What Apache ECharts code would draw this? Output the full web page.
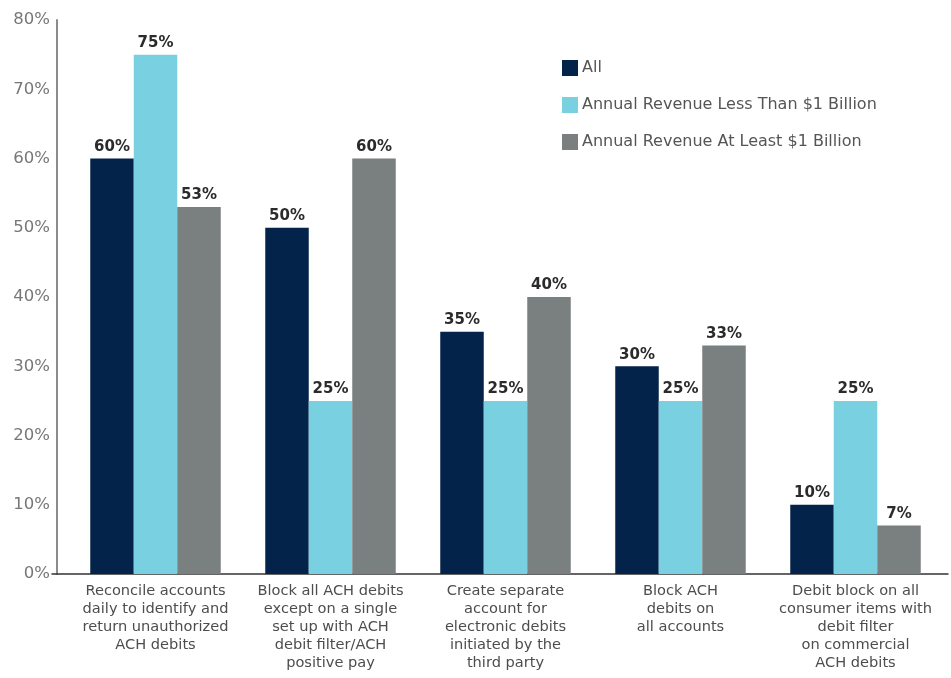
<!DOCTYPE html>
<html>
<head>
<meta charset="utf-8">
<script src="https://cdn.jsdelivr.net/npm/echarts@6/dist/echarts.min.js"></script>
<style>
  html, body { margin: 0; padding: 0; background: #ffffff; }
  #chart { width: 951px; height: 678px; }
</style>
</head>
<body>
<div id="chart"></div>
<script>
// ACH debit fraud-prevention practices, by organisation size
const categories = [
  'Reconcile accounts\ndaily to identify and\nreturn unauthorized\nACH debits',
  'Block all ACH debits\nexcept on a single\nset up with ACH\ndebit filter/ACH\npositive pay',
  'Create separate\naccount for\nelectronic debits\ninitiated by the\nthird party',
  'Block ACH\ndebits on\nall accounts',
  'Debit block on all\nconsumer items with\ndebit filter\non commercial\nACH debits'
];
const seriesNames = [
  'All',
  'Annual Revenue Less Than $1 Billion',
  'Annual Revenue At Least $1 Billion'
];
const allValues = [60, 50, 35, 30, 10];
const lessThan1B = [75, 25, 25, 25, 25];
const atLeast1B = [53, 60, 40, 33, 7];
const yTicks = { min: 0, max: 80, interval: 10 };

const colors = ['#04234a', '#79d0e1', '#7a7f7f'];
const FONT = '"DejaVu Sans", sans-serif';

function barSeries(name, data, color) {
  return {
    name: name,
    type: 'bar',
    data: data,
    barWidth: 43.5,
    barGap: '0%',
    itemStyle: { color: color },
    label: {
      show: true,
      position: 'top',
      distance: 4,
      formatter: '{c}%',
      fontFamily: FONT,
      fontWeight: 'bold',
      fontSize: 15,
      color: '#2b2b2b'
    }
  };
}

const chart = echarts.init(document.getElementById('chart'), null, { renderer: 'canvas' });
chart.setOption({
  animation: false,
  backgroundColor: '#ffffff',
  color: colors,
  legend: {
    orient: 'vertical',
    left: 557,
    top: 55,
    itemWidth: 16,
    itemHeight: 16,
    itemGap: 21,
    icon: 'rect',
    textStyle: { fontFamily: FONT, fontSize: 16, color: '#555555', padding: [0, 0, 0, -1] },
    data: seriesNames
  },
  grid: [
    { left: 68, right: 8, top: 20, bottom: 104 },
    { left: 52, right: 3, top: 20, bottom: 104 }
  ],
  xAxis: [
    {
      type: 'category',
      gridIndex: 0,
      data: categories,
      axisLine: { show: false },
      axisTick: { show: false },
      axisLabel: {
        interval: 0,
        margin: 8,
        fontFamily: FONT,
        fontSize: 14.6,
        lineHeight: 18,
        color: '#4d4d4d',
        align: 'center'
      }
    },
    {
      // baseline spanning the full plot width
      type: 'value',
      gridIndex: 1,
      min: 0,
      max: 1,
      axisLine: { show: true, lineStyle: { color: '#333333', width: 1.5 } },
      axisTick: { show: false },
      axisLabel: { show: false },
      splitLine: { show: false }
    }
  ],
  yAxis: [
    {
      type: 'value',
      gridIndex: 0,
      min: yTicks.min,
      max: yTicks.max,
      interval: yTicks.interval,
      offset: 11,
      axisLine: { show: true, lineStyle: { color: '#8c8c8c', width: 2 } },
      axisTick: { show: false },
      splitLine: { show: false },
      axisLabel: {
        formatter: '{value}%',
        margin: 7,
        fontFamily: FONT,
        fontSize: 16.5,
        color: '#777777'
      }
    },
    {
      type: 'value',
      gridIndex: 1,
      min: 0,
      max: 1,
      show: false
    }
  ],
  series: [
    barSeries(seriesNames[0], allValues, colors[0]),
    barSeries(seriesNames[1], lessThan1B, colors[1]),
    barSeries(seriesNames[2], atLeast1B, colors[2])
  ]
});
</script>
</body>
</html>
